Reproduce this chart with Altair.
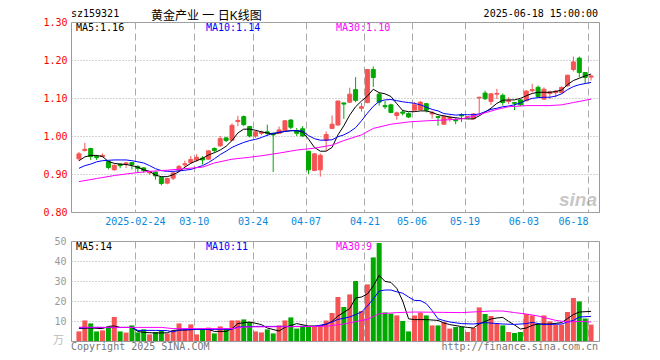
import altair as alt
import pandas as pd

# ---------------- data ----------------
opens = [0.940, 0.962, 0.967, 0.946, 0.946, 0.933, 0.911, 0.926, 0.926, 0.930,
         0.920, 0.916, 0.903, 0.905, 0.891, 0.876, 0.889, 0.909, 0.924, 0.930,
         0.937, 0.942, 0.939, 0.967, 0.974, 0.995, 0.989, 1.038, 1.051, 1.025,
         1.000, 1.007, 1.011, 1.007, 1.007, 1.014, 1.042, 1.014, 1.019, 0.960,
         0.909, 0.911, 0.989, 1.020, 1.029, 1.087, 1.089, 1.122, 1.073, 1.088,
         1.175, 1.110, 1.080, 1.082, 1.054, 1.063, 1.059, 1.068, 1.069, 1.085,
         1.058, 1.051, 1.031, 1.046, 1.043, 1.056, 1.049, 1.045, 1.100, 1.113,
         1.091, 1.110, 1.107, 1.091, 1.088, 1.095, 1.093, 1.119, 1.128, 1.097,
         1.112, 1.114, 1.114, 1.132, 1.175, 1.205, 1.167, 1.155]
highs = [0.958, 0.982, 0.969, 0.950, 0.954, 0.935, 0.925, 0.928, 0.932, 0.931,
         0.923, 0.918, 0.908, 0.906, 0.892, 0.890, 0.905, 0.924, 0.935, 0.947,
         0.952, 0.947, 0.962, 0.970, 1.000, 0.998, 1.033, 1.053, 1.054, 1.026,
         1.014, 1.014, 1.030, 1.009, 1.025, 1.042, 1.044, 1.021, 1.026, 0.960,
         0.955, 0.954, 1.012, 1.054, 1.093, 1.088, 1.127, 1.155, 1.087, 1.176,
         1.183, 1.115, 1.092, 1.085, 1.064, 1.069, 1.062, 1.089, 1.092, 1.087,
         1.066, 1.052, 1.054, 1.054, 1.048, 1.060, 1.053, 1.060, 1.103, 1.119,
         1.112, 1.124, 1.112, 1.102, 1.089, 1.097, 1.121, 1.137, 1.133, 1.128,
         1.119, 1.121, 1.130, 1.161, 1.209, 1.209, 1.167, 1.161]
lows = [0.935, 0.959, 0.937, 0.937, 0.944, 0.912, 0.909, 0.915, 0.916, 0.912,
        0.905, 0.903, 0.898, 0.885, 0.870, 0.873, 0.884, 0.906, 0.918, 0.928,
        0.932, 0.925, 0.938, 0.956, 0.972, 0.984, 0.988, 1.026, 1.026, 0.996,
        0.995, 1.002, 1.000, 0.905, 1.005, 1.012, 1.018, 1.000, 0.998, 0.900,
        0.908, 0.893, 0.961, 1.018, 1.027, 1.045, 1.087, 1.089, 1.064, 1.086,
        1.129, 1.080, 1.071, 1.060, 1.043, 1.054, 1.047, 1.066, 1.068, 1.062,
        1.046, 1.027, 1.029, 1.038, 1.031, 1.037, 1.046, 1.044, 1.058, 1.095,
        1.082, 1.097, 1.080, 1.084, 1.068, 1.079, 1.091, 1.115, 1.100, 1.095,
        1.097, 1.102, 1.112, 1.130, 1.170, 1.154, 1.137, 1.146]
closes = [0.953, 0.965, 0.946, 0.943, 0.949, 0.917, 0.923, 0.922, 0.929, 0.925,
          0.915, 0.909, 0.906, 0.895, 0.875, 0.888, 0.903, 0.920, 0.927, 0.938,
          0.944, 0.937, 0.961, 0.962, 0.993, 0.988, 1.028, 1.041, 1.030, 1.000,
          1.011, 1.010, 1.007, 1.003, 1.016, 1.040, 1.023, 1.007, 1.000, 0.911,
          0.953, 0.949, 1.004, 1.031, 1.092, 1.084, 1.110, 1.094, 1.077, 1.175,
          1.154, 1.089, 1.077, 1.062, 1.061, 1.060, 1.050, 1.082, 1.089, 1.068,
          1.061, 1.049, 1.052, 1.049, 1.040, 1.053, 1.051, 1.058, 1.102, 1.098,
          1.111, 1.112, 1.088, 1.093, 1.086, 1.082, 1.118, 1.122, 1.104, 1.123,
          1.116, 1.118, 1.128, 1.160, 1.195, 1.167, 1.154, 1.158]
volumes = [4.8, 10.3, 8.8, 4.8, 5.3, 6.6, 12.0, 4.8, 4.2, 7.8,
           4.3, 5.8, 3.3, 4.5, 5.2, 3.8, 5.2, 8.8, 5.8, 8.3,
           3.3, 5.8, 6.7, 3.8, 7.3, 6.3, 10.3, 10.3, 10.8, 9.5,
           4.8, 4.3, 5.8, 3.8, 7.8, 10.3, 11.8, 6.2, 7.6, 7.3,
           7.3, 7.3, 10.3, 14.0, 22.0, 17.0, 23.3, 30.0, 15.0, 28.3,
           41.8, 49.0, 14.3, 13.7, 12.8, 10.0, 4.8, 12.8, 14.2, 12.8,
           7.8, 7.8, 9.5, 6.2, 7.0, 7.0, 4.5, 6.5, 16.8, 13.5,
           12.5, 8.5, 7.8, 4.5, 4.0, 4.5, 13.5, 12.8, 8.5, 12.8,
           9.8, 8.2, 8.2, 14.5, 21.5, 19.8, 11.2, 8.2]

ma5_vals = [0.935, 0.945, 0.949, 0.949, 0.946, 0.933, 0.928, 0.926, 0.925, 0.922,
            0.918, 0.911, 0.907, 0.897, 0.893, 0.893, 0.898, 0.906, 0.918, 0.928,
            0.935, 0.941, 0.950, 0.956, 0.963, 0.973, 0.988, 1.008, 1.018, 1.018,
            1.015, 1.011, 1.008, 1.005, 1.009, 1.012, 1.014, 1.014, 1.010, 0.992,
            0.970, 0.960, 0.960, 0.970, 1.003, 1.027, 1.055, 1.077, 1.092, 1.105,
            1.123, 1.114, 1.111, 1.104, 1.085, 1.067, 1.064, 1.064, 1.066, 1.066,
            1.062, 1.056, 1.053, 1.050, 1.048, 1.046, 1.045, 1.045, 1.053, 1.063,
            1.073, 1.086, 1.094, 1.095, 1.095, 1.099, 1.106, 1.112, 1.115, 1.115,
            1.115, 1.117, 1.121, 1.135, 1.146, 1.152, 1.158, 1.163]
ma10_vals = [0.915, 0.922, 0.926, 0.932, 0.935, 0.936, 0.937, 0.937, 0.937, 0.935,
             0.932, 0.929, 0.922, 0.914, 0.909, 0.907, 0.907, 0.908, 0.910, 0.912,
             0.917, 0.922, 0.930, 0.940, 0.951, 0.960, 0.970, 0.977, 0.983, 0.988,
             0.991, 0.996, 1.002, 1.007, 1.010, 1.012, 1.014, 1.014, 1.013, 1.001,
             0.993, 0.989, 0.989, 0.990, 0.998, 1.003, 1.011, 1.022, 1.040, 1.060,
             1.078, 1.091, 1.095, 1.096, 1.093, 1.090, 1.088, 1.086, 1.082, 1.076,
             1.070, 1.066, 1.059, 1.057, 1.055, 1.056, 1.056, 1.056, 1.058, 1.064,
             1.070, 1.073, 1.077, 1.079, 1.082, 1.087, 1.094, 1.099, 1.101, 1.102,
             1.102, 1.105, 1.111, 1.122, 1.130, 1.135, 1.138, 1.141]
ma30_days = [0, 3, 6, 9, 12, 15, 18, 21, 23, 26, 29, 31, 34, 37, 40, 43, 45, 48, 50, 53,
             56, 59, 62, 65, 67, 69, 71, 73, 76, 80, 82, 84, 86, 87]
ma30_vals = [0.880, 0.888, 0.896, 0.902, 0.907, 0.910, 0.914, 0.918, 0.929, 0.939,
             0.944, 0.948, 0.955, 0.963, 0.968, 0.976, 0.988, 1.003, 1.020, 1.031,
             1.037, 1.040, 1.042, 1.045, 1.052, 1.061, 1.070, 1.077, 1.080, 1.080,
             1.082, 1.088, 1.094, 1.097]

vma5_days = [0, 2, 4, 5, 6, 7, 9, 10, 11, 13, 15, 16, 18, 20, 22, 23, 25, 26, 27, 29,
             31, 32, 34, 35, 37, 39, 41, 42, 43, 44, 46, 47, 48, 49, 50, 51, 52, 53, 54, 55,
             56, 57, 59, 61, 62, 63, 65, 66, 67, 68, 69, 70, 71, 72, 73, 74, 75, 76, 77, 78,
             80, 82, 83, 84, 85, 87]
vma5_vals = [6.3, 6.5, 6.2, 7.3, 7.5, 6.8, 6.8, 4.8, 4.3, 4.0, 4.1, 5.3, 5.5, 5.8, 5.8, 4.8, 4.8, 6.2, 8.7, 9.5,
             8.2, 6.5, 5.0, 6.8, 8.7, 7.5, 7.5, 8.3, 9.8, 12.5, 16.2, 21.5, 22.0, 23.5, 27.5, 32.8, 29.8, 29.3, 26.3, 20.0,
             11.1, 10.7, 10.7, 10.3, 9.0, 8.2, 7.2, 6.8, 6.5, 8.5, 9.8, 11.0, 11.5, 11.8, 9.8, 8.0, 6.0, 6.5, 7.8, 8.5,
             8.5, 9.2, 11.2, 13.2, 14.5, 14.8]
vma10_days = [0, 3, 6, 9, 10, 13, 15, 16, 17, 20, 23, 26, 27, 30, 34, 37, 40, 42, 43, 44,
              46, 48, 49, 50, 51, 52, 53, 54, 55, 56, 57, 58, 59, 60, 61, 62, 63, 65, 67, 69,
              72, 74, 76, 77, 79, 82, 83, 84, 85, 87]
vma10_vals = [6.5, 6.8, 6.7, 6.8, 5.3, 5.3, 5.2, 4.5, 5.5, 5.8, 5.8, 5.9, 7.0, 7.3, 7.3, 7.3, 7.3, 8.5, 9.5, 10.8,
              12.0, 14.5, 17.5, 21.0, 25.0, 25.5, 25.5, 24.6, 23.9, 22.0, 20.3, 20.2, 18.7, 15.2, 11.1, 10.2, 9.5, 8.7, 8.5, 9.2,
              8.5, 8.3, 8.7, 9.3, 8.2, 8.5, 9.5, 10.3, 12.0, 12.3]
vma30_days = [0, 5, 10, 14, 16, 20, 26, 28, 32, 38, 42, 45, 47, 49, 50, 51, 54, 57, 62, 65,
              70, 72, 74, 76, 78, 81, 83, 85, 87]
vma30_vals = [6.9, 6.8, 6.8, 6.8, 6.2, 6.2, 6.2, 7.0, 7.1, 7.2, 7.4, 8.5, 9.7, 10.8, 12.2, 13.6, 14.2, 14.5, 14.3, 14.2,
              15.0, 15.0, 14.2, 13.5, 12.5, 10.3, 9.5, 9.8, 9.5]

tick_days = [10, 20, 30, 39, 49, 57, 66, 76, 87]
tick_labels = ["2025-02-24", "03-10", "03-24", "04-07", "04-21", "05-06", "05-19", "06-03", "06-18"]
price_ticks = [0.80, 0.90, 1.00, 1.10, 1.20, 1.30]
vol_ticks = [10, 20, 30, 40, 50]

code_text = "sz159321"
title_text = "黄金产业 一 日K线图"
stamp_text = "2025-06-18 15:00:00"
price_ma_labels = ["MA5:1.16", "MA10:1.14", "MA30:1.10"]
vol_ma_labels = ["MA5:14", "MA10:11", "MA30:9"]
unit_text = "万"
copyright_text = "Copyright 2025 SINA.COM"
url_text = "http://finance.sina.com.cn"
logo_text = "sina"

# ---------------- styling ----------------
RED = "#f65454"
GREEN = "#00a800"
MA_COLORS = ["#000000", "#0000ff", "#ff00ff"]
MONO = "DejaVu Sans Mono"
CJK = "Noto Sans CJK SC"
TITLE_FONT = "Liberation Sans, Noto Sans CJK SC"
GRID = "#aaaaaa"
W, H1, H2 = 528, 190, 100

n = len(closes)
days = list(range(n))
direction = ["up" if c >= o else "down" for o, c in zip(opens, closes)]
kdf = pd.DataFrame(dict(i=days, open=opens, high=highs, low=lows, close=closes,
                        vol=volumes, dir=direction))

xs = alt.Scale(domain=[-0.5, n - 0.5], nice=False, zero=False)
grid_pos = [d - 0.5 for d in tick_days]
label_expr = "".join(f"datum.value == {p} ? '{l}' : " for p, l in zip(grid_pos, tick_labels)) + "''"

x_axis_main = alt.Axis(values=grid_pos, labelExpr=label_expr, title=None, grid=True,
                       gridColor=GRID, gridDash=[7, 4], gridWidth=1, ticks=False, domain=False,
                       labelColor="#0a88dc", labelFont=MONO, labelFontSize=10, labelPadding=4,
                       labelFlush=False, labelOverlap=False,
                       labelAlign={"condition": {"test": f"datum.value > {grid_pos[-2]}", "value": "right"},
                                   "value": "center"})
x_axis_vol = alt.Axis(values=grid_pos, labels=False, title=None, grid=True,
                      gridColor=GRID, gridDash=[7, 4], gridWidth=1, ticks=False, domain=False)
y_axis_main = alt.Axis(values=price_ticks, format=".2f", title=None, grid=True, gridColor=GRID,
                       gridDash=[1, 2], ticks=False, domain=False, labelColor="#ff0000",
                       labelFont=MONO, labelFontSize=10, labelPadding=4)
y_axis_vol = alt.Axis(values=vol_ticks, title=None, grid=True, gridColor=GRID, gridDash=[1, 2],
                      ticks=False, domain=False, labelColor="#999999", labelFont=MONO,
                      labelFontSize=10, labelPadding=5)
ys_main = alt.Scale(domain=[0.8, 1.3], nice=False, zero=False)
ys_vol = alt.Scale(domain=[0, 50], nice=False)

dir_scale = alt.Scale(domain=["up", "down"], range=[RED, GREEN])
color = alt.Color("dir:N", scale=dir_scale, legend=None)
stroke = alt.Stroke("dir:N", scale=dir_scale, legend=None)

XM = alt.X("i:Q", scale=xs, axis=x_axis_main)
XV = alt.X("i:Q", scale=xs, axis=x_axis_vol)

base = alt.Chart(kdf)
wicks = base.mark_rule(strokeWidth=1).encode(
    x=XM, y=alt.Y("low:Q", scale=ys_main, axis=y_axis_main), y2="high:Q", color=color)
bodies = base.mark_bar(size=4, strokeWidth=1).encode(
    x=XM, y=alt.Y("open:Q", scale=ys_main, axis=y_axis_main), y2="close:Q",
    color=color, stroke=stroke)


def ma_line(d, v, col, X, ys, yaxis):
    df = pd.DataFrame({"i": d, "v": v})
    return alt.Chart(df).mark_line(color=col, strokeWidth=1).encode(
        x=X, y=alt.Y("v:Q", scale=ys, axis=yaxis))


def label(text, x, y, color="#000000", align="left", font=MONO, size=10, **kw):
    return alt.Chart(pd.DataFrame({"t": [text]})).mark_text(
        align=align, baseline="middle", font=font, fontSize=size, color=color, **kw
    ).encode(x=alt.value(x), y=alt.value(y), text="t:N")


anchor = alt.Chart(pd.DataFrame({"t": [0]})).mark_rule(strokeWidth=0, color="white").encode(
    x=alt.value(-62), x2=alt.value(-62), y=alt.value(-13), y2=alt.value(-13))

main_layers = [
    wicks, bodies,
    ma_line(days, ma5_vals, MA_COLORS[0], XM, ys_main, y_axis_main),
    ma_line(days, ma10_vals, MA_COLORS[1], XM, ys_main, y_axis_main),
    ma_line(ma30_days, ma30_vals, MA_COLORS[2], XM, ys_main, y_axis_main),
    label(code_text, 0, -8),
    label(title_text, 80, -6.5, font=TITLE_FONT, size=12),
    label(stamp_text, W - 1, -8, align="right"),
    label(price_ma_labels[0], 5, 5.5, MA_COLORS[0]),
    label(price_ma_labels[1], 135, 5.5, MA_COLORS[1]),
    label(price_ma_labels[2], 265, 5.5, MA_COLORS[2]),
    label(logo_text, W - 2, 178, "#9a9a9a", align="right", font="Liberation Sans", size=19,
          fontStyle="italic", fontWeight="bold", opacity=0.55),
    anchor,
]
main = alt.layer(*main_layers).properties(width=W, height=H1)

vbars = base.mark_bar(size=5).encode(
    x=XV, y=alt.Y("vol:Q", scale=ys_vol, axis=y_axis_vol), color=color)
vol_layers = [
    vbars,
    ma_line(vma5_days, vma5_vals, MA_COLORS[0], XV, ys_vol, y_axis_vol),
    ma_line(vma10_days, vma10_vals, MA_COLORS[1], XV, ys_vol, y_axis_vol),
    ma_line(vma30_days, vma30_vals, MA_COLORS[2], XV, ys_vol, y_axis_vol),
    label(vol_ma_labels[0], 5, 6, MA_COLORS[0]),
    label(vol_ma_labels[1], 135, 6, MA_COLORS[1]),
    label(vol_ma_labels[2], 265, 6, MA_COLORS[2]),
    label(unit_text, -7, 100, "#bbbbbb", align="right", font=CJK, size=11),
    label(copyright_text, 0, 105.5, "#777777"),
    label(url_text, W - 1, 105.5, "#777777", align="right"),
]
vol = alt.layer(*vol_layers).properties(width=W, height=H2)

chart = alt.vconcat(main, vol, spacing=29, bounds="flush").properties(
    padding={"left": 0, "top": 0, "right": 4, "bottom": 4}
).configure_view(stroke="#999999", strokeWidth=1)

chart.save("out.html", embed_options={"renderer": "svg", "actions": False})
